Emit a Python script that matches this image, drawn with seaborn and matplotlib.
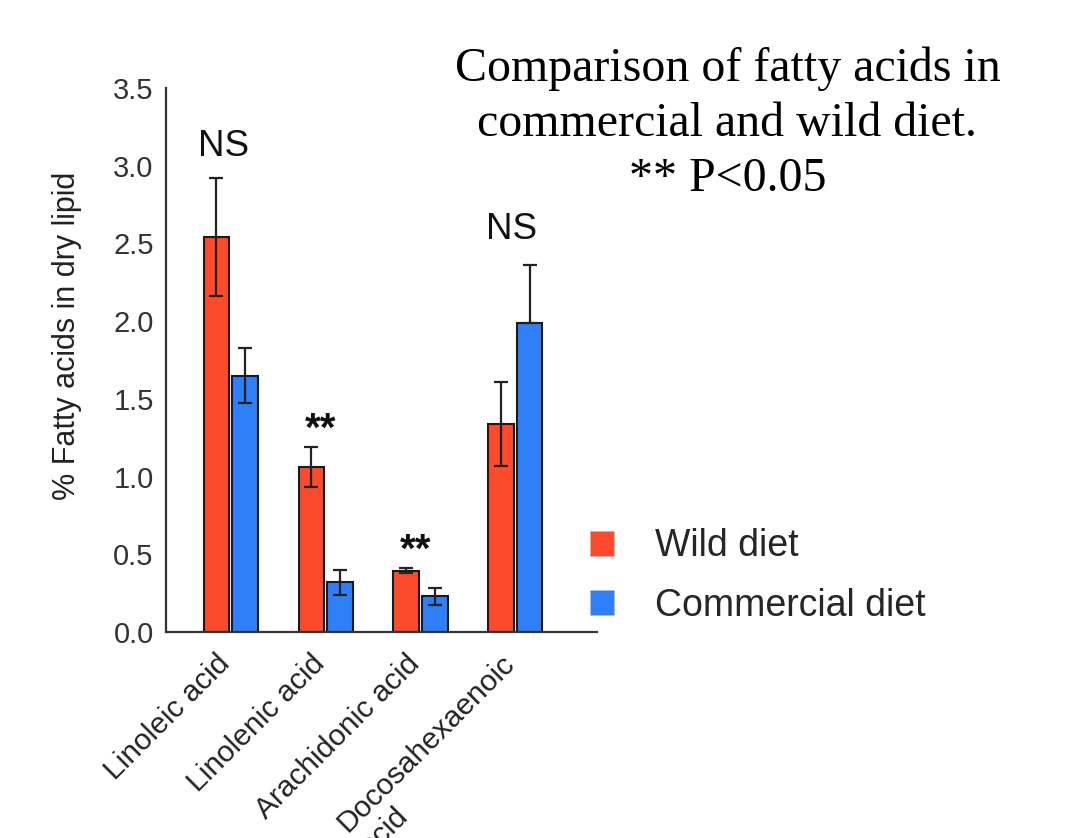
import matplotlib
matplotlib.use("Agg")
import matplotlib.pyplot as plt
import matplotlib.transforms as mtransforms
from matplotlib.patches import Patch
import seaborn as sns
import pandas as pd
import numpy as np

# Fatty acid composition (% of dry lipid), mean and SE
acids = ["Linoleic acid", "Linolenic acid", "Arachidonic acid", "Docosahexaenoic\nacid"]
diets = ["Wild diet", "Commercial diet"]
wild_mean = [2.54, 1.06, 0.395, 1.34]
wild_err = [0.38, 0.13, 0.015, 0.27]
comm_mean = [1.65, 0.32, 0.23, 1.99]
comm_err = [0.175, 0.08, 0.055, 0.37]
significance = ["NS", "**", "**", "NS"]
title_lines = "Comparison of fatty acids in\ncommercial and wild diet.\n** P<0.05"

colors = {"Wild diet": "#FC4A2D", "Commercial diet": "#2F7FF9"}

df = pd.DataFrame({
    "acid": acids * 2,
    "diet": [diets[0]] * 4 + [diets[1]] * 4,
    "value": wild_mean + comm_mean,
})

sns.set_style("white")
plt.rcParams["font.family"] = ["Liberation Sans", "DejaVu Sans"]

fig = plt.figure(figsize=(10.65, 8.38), dpi=100)
ax = fig.add_axes([0.156, 0.2458, 0.4046, 0.6492])

sns.barplot(data=df, x="acid", y="value", hue="diet", order=acids,
            hue_order=diets, palette=colors, saturation=1, errorbar=None,
            width=0.6, gap=0.1, edgecolor="#1a1a1a", linewidth=1.5,
            legend=False, ax=ax)

# error bars drawn on top of each bar (the tall commercial DHA bar shows the upper arm only)
errs = [wild_err, comm_err]
bar_groups = list(ax.containers)
for k, cont in enumerate(bar_groups):
    for i, bar in enumerate(cont.patches):
        xc = bar.get_x() + bar.get_width() / 2
        h = bar.get_height()
        e = errs[k][i]
        lower = 0 if (k == 1 and i == 3) else e
        ax.errorbar(xc, h, yerr=[[lower], [e]], fmt="none", ecolor="#222222",
                    elinewidth=1.6, capsize=5, capthick=1.6, zorder=5)

# significance markers above each pair
tops = [max(w + we, c + ce) for w, we, c, ce in zip(wild_mean, wild_err, comm_mean, comm_err)]
for i, s in enumerate(significance):
    if s == "NS":
        ax.text(i - (0.08 if i == 0 else 0.04), tops[i] + (0.09 if i == 0 else 0.12), s,
                ha="center", va="bottom", fontsize=26.5, color="#111111")
    else:
        ax.text(i - 0.05, tops[i] + 0.04, s, ha="center", va="baseline",
                fontsize=29, fontweight="bold", color="#111111")

ax.set_xlim(-0.68, 3.86)
ax.set_ylim(0, 3.5)
yt = np.arange(0, 3.51, 0.5)
ax.set_yticks(yt)
ax.set_yticklabels([f"{v:.1f}" for v in yt], fontsize=21, color="#333333")
ax.set_xlabel("")
ax.set_ylabel("% Fatty acids in dry lipid", fontsize=22, color="#222222")
ax.yaxis.set_label_coords(-0.195, 0.545)
ax.set_xticks(range(len(acids)))
ax.set_xticklabels(acids, rotation=45, ha="right", rotation_mode="anchor",
                   fontsize=21.5, color="#222222", multialignment="left")
ax.tick_params(axis="y", direction="in", length=5, width=1.2, color="#333333", pad=9)
ax.tick_params(axis="x", length=0, pad=4)

# nudge the slanted category labels so they end just under each pair
shift = mtransforms.ScaledTranslation(-15 / 100, -12 / 100, fig.dpi_scale_trans)
for lbl in ax.get_xticklabels():
    lbl.set_transform(lbl.get_transform() + shift)

for side in ["top", "right"]:
    ax.spines[side].set_visible(False)
for side in ["left", "bottom"]:
    ax.spines[side].set_color("#333333")
    ax.spines[side].set_linewidth(1.6)

handles = [Patch(facecolor=colors[d], edgecolor="#bbbbbb", linewidth=0.5) for d in diets]
fig.legend(handles, diets, loc="upper left", bbox_to_anchor=(0.536, 0.392),
           frameon=False, fontsize=27, handlelength=0.65, handleheight=0.65,
           handletextpad=1.1, labelspacing=0.62, borderpad=0)

fig.text(0.683, 0.944, title_lines, ha="center", va="top", fontsize=34.5,
         family="Liberation Serif", color="black", linespacing=1.31)

fig.savefig("out.png", dpi=100)
